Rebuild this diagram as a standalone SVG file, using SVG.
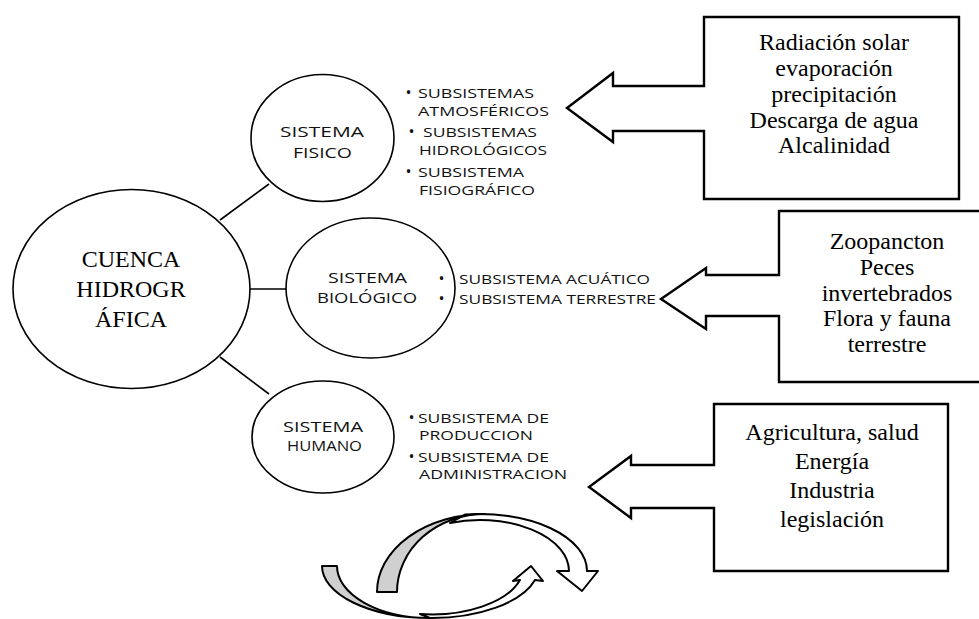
<svg xmlns="http://www.w3.org/2000/svg" width="979" height="619" viewBox="0 0 979 619">
<style>
.ell{fill:#fff;stroke:#000;stroke-width:1.6}
.con{stroke:#000;stroke-width:1.6;fill:none}
.call{fill:#fff;stroke:#000;stroke-width:2.4;stroke-linejoin:miter}
.serif{font-family:"Liberation Serif","Times New Roman",serif;font-size:24px;fill:#000;text-anchor:middle}
.sys{font-family:"Open Sans","Liberation Sans",sans-serif;font-size:15px;fill:#111;text-anchor:middle}
.sub{font-family:"Open Sans","Liberation Sans",sans-serif;font-size:13.5px;fill:#111}
.bul{font-size:16px}
.wb{fill:#fff;stroke:#000;stroke-width:2;stroke-linejoin:round}
.gb{fill:#d0d0d0;stroke:#000;stroke-width:2;stroke-linejoin:round}
</style>
<rect width="979" height="619" fill="#fff"/>
<g id="connectors">
<line class="con" x1="220" y1="220" x2="269" y2="184"/>
<line class="con" x1="250" y1="289" x2="286" y2="289"/>
<line class="con" x1="220" y1="357" x2="269" y2="394"/>
</g>
<g id="cuenca">
<ellipse class="ell" cx="131.5" cy="289" rx="118.5" ry="99.5"/>
<text class="serif" x="131" y="267">CUENCA</text>
<text class="serif" x="131" y="297">HIDROGR</text>
<text class="serif" x="131" y="327">ÁFICA</text>
</g>
<g id="fisico">
<ellipse class="ell" cx="322.5" cy="138" rx="71.5" ry="63.5"/>
<text class="sys" x="322" y="137" textLength="84" lengthAdjust="spacingAndGlyphs">SISTEMA</text>
<text class="sys" x="322.5" y="158" textLength="59" lengthAdjust="spacingAndGlyphs">FISICO</text>
</g>
<g id="biologico">
<ellipse class="ell" cx="370.5" cy="288" rx="84.5" ry="70"/>
<text class="sys" x="367.5" y="283" textLength="79" lengthAdjust="spacingAndGlyphs">SISTEMA</text>
<text class="sys" x="367" y="303" textLength="100" lengthAdjust="spacingAndGlyphs">BIOLÓGICO</text>
</g>
<g id="humano">
<ellipse class="ell" cx="323" cy="437" rx="71" ry="56"/>
<text class="sys" x="323" y="432" textLength="80" lengthAdjust="spacingAndGlyphs">SISTEMA</text>
<text class="sys" x="324.5" y="451" textLength="75" lengthAdjust="spacingAndGlyphs">HUMANO</text>
</g>
<g id="lista-fisico">
<text class="sub" y="98"><tspan class="bul" x="405.5">•</tspan><tspan x="418" textLength="116" lengthAdjust="spacingAndGlyphs">SUBSISTEMAS</tspan></text>
<text class="sub" x="418" y="116" textLength="131" lengthAdjust="spacingAndGlyphs">ATMOSFÉRICOS</text>
<text class="sub" y="137"><tspan class="bul" x="408.5">•</tspan><tspan x="423" textLength="114" lengthAdjust="spacingAndGlyphs">SUBSISTEMAS</tspan></text>
<text class="sub" x="419" y="155" textLength="128" lengthAdjust="spacingAndGlyphs">HIDROLÓGICOS</text>
<text class="sub" y="177"><tspan class="bul" x="405.5">•</tspan><tspan x="418" textLength="106" lengthAdjust="spacingAndGlyphs">SUBSISTEMA</tspan></text>
<text class="sub" x="419" y="195" textLength="116" lengthAdjust="spacingAndGlyphs">FISIOGRÁFICO</text>
</g>
<g id="lista-biologico">
<text class="sub" y="284"><tspan class="bul" x="438.5">•</tspan><tspan x="459" textLength="191" lengthAdjust="spacingAndGlyphs">SUBSISTEMA ACUÁTICO</tspan></text>
<text class="sub" y="304"><tspan class="bul" x="438.5">•</tspan><tspan x="459" textLength="197" lengthAdjust="spacingAndGlyphs">SUBSISTEMA TERRESTRE</tspan></text>
</g>
<g id="lista-humano">
<text class="sub" y="423"><tspan class="bul" x="408.5">•</tspan><tspan x="418" textLength="131" lengthAdjust="spacingAndGlyphs">SUBSISTEMA DE</tspan></text>
<text class="sub" x="419" y="440" textLength="114" lengthAdjust="spacingAndGlyphs">PRODUCCION</text>
<text class="sub" y="462"><tspan class="bul" x="408.5">•</tspan><tspan x="418" textLength="131" lengthAdjust="spacingAndGlyphs">SUBSISTEMA DE</tspan></text>
<text class="sub" x="419" y="479" textLength="148" lengthAdjust="spacingAndGlyphs">ADMINISTRACION</text>
</g>
<g id="caja-fisico">
<path class="call" d="M704,17 H959 V199 H704 V131 H613 V142 L567,108 L613,73 V86 H704 Z"/>
<text class="serif" x="834" y="50">Radiación solar</text>
<text class="serif" x="834" y="76">evaporación</text>
<text class="serif" x="834" y="102">precipitación</text>
<text class="serif" x="834" y="128">Descarga de agua</text>
<text class="serif" x="834" y="153">Alcalinidad</text>
</g>
<g id="caja-biologico">
<path class="call" d="M779,211 H983 V382 H779 V316 H706 V329 L661,299 L706,268 V275 H779 Z"/>
<text class="serif" x="887" y="249">Zoopancton</text>
<text class="serif" x="887" y="275">Peces</text>
<text class="serif" x="887" y="301">invertebrados</text>
<text class="serif" x="887" y="326">Flora y fauna</text>
<text class="serif" x="887" y="352">terrestre</text>
</g>
<g id="caja-humano">
<path class="call" d="M714,404 H948 V571 H714 V508 H631 V518 L589,487 L631,456 V465 H714 Z"/>
<text class="serif" x="832" y="440">Agricultura, salud</text>
<text class="serif" x="832" y="469">Energía</text>
<text class="serif" x="832" y="498">Industria</text>
<text class="serif" x="832" y="527">legislación</text>
</g>
<g id="flechas-ciclo">
<path class="wb" d="M430,618 A108,52 0 0 0 535,580 L543,581 L531,566 L513,581 L520,580 A92,48 0 0 1 420,614 Z"/>
<path class="gb" d="M322,566 A108,52 0 0 0 430,618 A93,52 0 0 1 337,566 Z"/>
<path class="wb" d="M465,514.6 A107,57 0 0 1 587,571 L598,571 L582,591 L557,571 L569,571 A89,51 0 0 0 450,523 Z"/>
<path class="gb" d="M377,592 A108,78 0 0 1 485,514 A88,78 0 0 0 397,592 Z"/>
</g>
</svg>
